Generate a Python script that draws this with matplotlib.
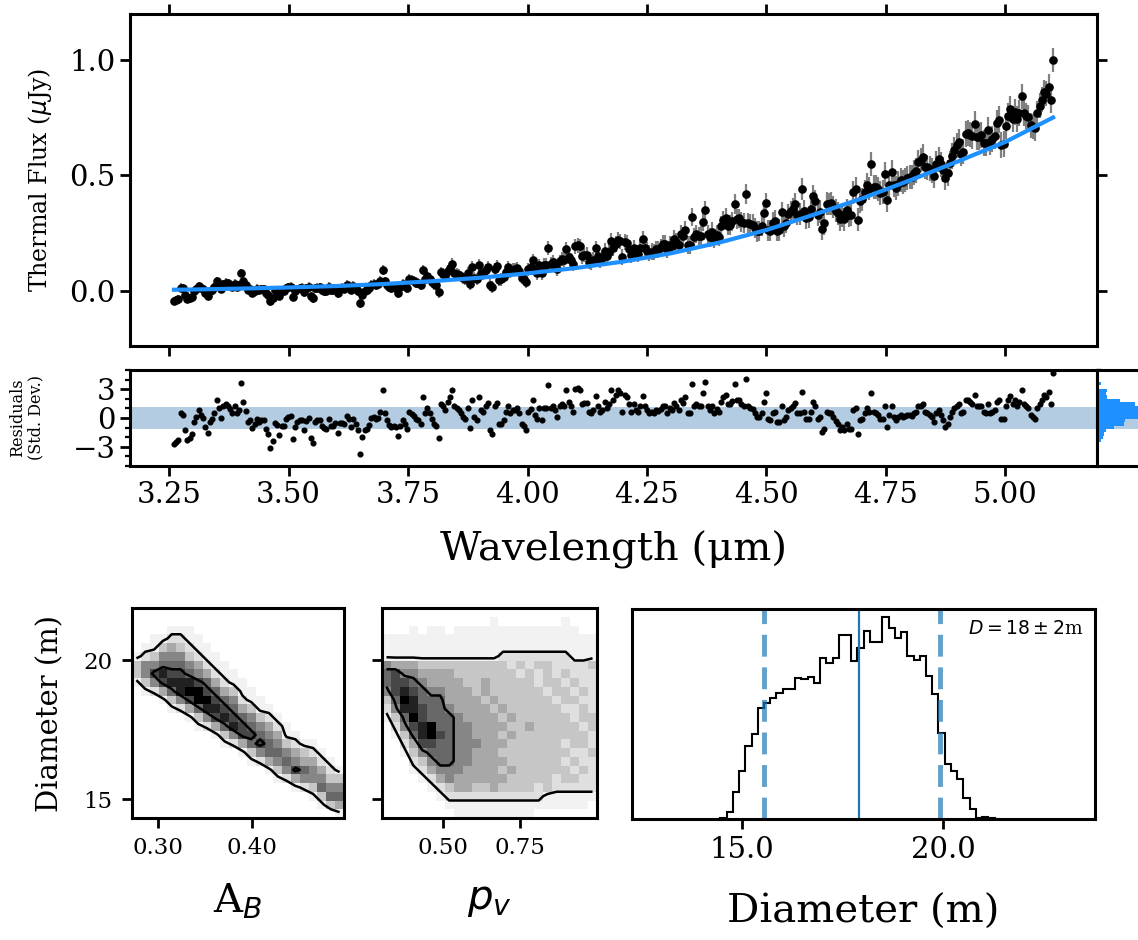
import numpy as np
import matplotlib
matplotlib.use("Agg")
import matplotlib.pyplot as plt
from matplotlib.ticker import MultipleLocator, FormatStrFormatter

plt.rcParams['font.family'] = 'serif'
plt.rcParams['font.serif'] = ['DejaVu Serif']
plt.rcParams['mathtext.fontset'] = 'dejavusans'

# ---------------- data ----------------
WL_START, WL_END = 3.26, 5.10   # evenly sampled spectral bins
RESID = [
    -2.7, -2.5, -2.3, 0.5, 0.3, -1.2, -2.3, -2.1, -1.7, -0.4, 0.1, 0.8, 0.3, 0.0, -0.9, -1.6, -0.4, -0.1, 0.5, 1.9,
    1.0, 0.0, 1.2, 1.5, 1.3, 0.9, 0.5, 1.2, 0.5, 0.8, 3.6, 1.7, 0.7, -0.4, -0.2, -1.0, -0.6, -0.1, -0.4, -0.2,
    -0.2, -1.1, -1.7, -3.1, -2.4, -0.5, -0.7, -1.8, -0.8, -0.8, -0.1, 0.1, 0.2, -2.2, -0.9, -0.4, -0.2, -0.2, -1.2, -0.3,
    0.0, -2.1, -2.6, -0.4, -0.2, -0.2, -0.8, -1.0, -1.1, -0.1, -0.8, -0.8, -0.5, -1.6, -0.5, -0.5, -0.6, 0.2, -0.1, -0.9,
    -0.1, -0.6, -1.2, -3.8, -2.0, -1.3, -1.1, -0.7, 0.0, 0.1, -0.1, 0.0, 0.6, 2.9, 0.5, -0.2, -0.7, -0.9, -0.8, -0.9,
    -1.9, -0.8, -0.2, -0.6, -1.1, 0.6, 0.4, 0.2, -0.1, -0.2, -0.6, 2.2, 0.5, 1.0, 0.5, -0.1, -0.6, -0.8, -2.1, 1.5,
    1.2, 0.8, 1.7, 2.2, 2.9, 1.2, 1.0, 0.8, 0.5, 0.1, -0.1, 1.0, -1.0, 1.9, 0.1, -0.2, 2.2, 0.8, 0.6, 1.2,
    1.6, -1.3, -1.7, 1.2, 1.6, -0.6, -0.6, -0.2, 0.6, 1.3, 0.5, 0.8, 0.8, 1.0, 0.5, -0.6, -0.8, -1.3, 0.6, 0.9,
    1.9, 0.3, -0.1, 1.0, -0.2, 1.0, 1.0, 3.4, 1.0, 1.2, 0.8, 0.1, 1.2, 1.5, 1.3, 2.9, 1.7, 1.2, 0.6, 3.0,
    3.1, 2.9, 1.5, 1.6, 1.6, 0.6, 0.5, 0.8, 2.3, 1.2, 0.6, 0.8, 1.7, 1.0, 1.5, 2.9, 1.9, 2.4, 2.9, 2.6,
    0.6, 2.4, 2.2, 1.5, 0.6, 1.5, 0.8, 0.6, 1.3, 2.3, 1.2, 0.8, 0.5,
    0.6, 0.5, 0.8, 0.7, 0.9, 1.3, 1.2, 0.5, 1.0, 0.8, 1.6, 1.2, 0.8, 1.9, 1.6, 2.2, 0.5, 0.5, 3.5, 1.2,
    1.5, 1.2, 1.2, 2.6, 3.8, 1.2, 0.8, 1.3, 0.5, 0.9, 0.6, 1.7, 2.2, 2.4, 1.5, 1.5, 1.8, 3.5, 1.9, 1.9,
    1.5, 1.3, 4.1, 1.2, 1.0, 0.9, 0.5, 0.1, 0.1, 0.5, 1.7, 2.6, -0.1, -0.2, 0.5, 0.6, -0.4, -0.4, 1.2, -0.2,
    0.1, 0.8, 1.0, 1.2, 1.6, 0.5, 0.5, 2.7, 0.6, -0.1, -0.1, 0.6, 1.7, 1.2, -0.1, 0.1, -1.5, -1.1, 0.6, 0.5,
    0.5, 0.1, -0.3, -0.6, -1.2, -0.9, -1.3, -0.6, -1.1, -1.1, 0.8, 1.0, -1.7, -0.2, -0.1, 0.5, 1.0, 0.6, 2.6, 0.6,
    0.5, 0.3, -0.1, -0.1, 1.3, -0.9, 0.3, 1.3, 0.1, -0.2, 0.1, 0.3, 0.1, 0.2, 0.3, 0.3, 0.2, 0.5, 0.6, 1.2,
    1.3, 1.5, 0.6, 0.5, 0.3, 0.1, -0.4, 0.5, 0.8, 0.3, -0.2, -0.9, -0.6, 0.1, 0.6, 1.0, 1.3, 1.5, 0.5, 0.6,
    1.9, 1.9, 1.7, 1.5, 2.4, 1.3, 1.2, 1.3, 0.6, 0.5, 1.5, 0.5, 0.6, 0.8, 1.7, 1.9, -0.1, -0.1, 1.2, 1.9,
    2.3, 1.5, 1.9, 1.3, 1.7, 2.9, 1.5, 1.2, 1.0, 0.3, 0.1, -0.1, 1.0, 1.5, 1.9, 2.4, 2.2, 2.7, 1.5, 4.7,
]
# best-fit thermal model
MODEL_WL = [3.26, 3.30, 3.40, 3.50, 3.60, 3.70, 3.80, 3.90, 4.00, 4.10, 4.20,
            4.30, 4.40, 4.50, 4.60, 4.70, 4.80, 4.90, 5.00, 5.10]
MODEL_FLUX = [0.004, 0.005, 0.009, 0.014, 0.020, 0.029, 0.041, 0.056, 0.075, 0.098, 0.126,
              0.162, 0.208, 0.263, 0.330, 0.400, 0.478, 0.560, 0.645, 0.751]
# flux uncertainty level versus wavelength
ERR_WL = [3.26, 3.50, 3.75, 4.00, 4.25, 4.50, 4.75, 5.00, 5.10]
ERR_VAL = [0.018, 0.019, 0.022, 0.028, 0.036, 0.045, 0.052, 0.057, 0.053]
BAND_SIGMA = 1.1

# 2D posterior histograms (row 0 = top), darkness 0..9
AB_RANGE = (0.273, 0.497)
PV_RANGE = (0.300, 1.000)
D_RANGE = (14.32, 21.87)
AB_D_GRID = [
    "000000000000000000000000",
    "000000000000000000000000",
    "000011100000000000000000",
    "001122110000000000000000",
    "011343211000000000000000",
    "123555321100000000000000",
    "355666542110000000000000",
    "357877654211000000000000",
    "135788876421100000000000",
    "012468997643110000000000",
    "000135799765211000000000",
    "000012468876431100000000",
    "000000135787653210000000",
    "000000012468765421000000",
    "000000000135776541100000",
    "000000000012467653211000",
    "000000000000135665432100",
    "000000000000012456544210",
    "000000000000000135765421",
    "000000000000000012455533",
    "000000000000000000123655",
    "000000000000000000001366",
    "000000000000000000000134",
    "000000000000000000000001",
]
PV_D_GRID = [
    "000000000000000000000000",
    "000000000000100000001000",
    "000101101111111111111100",
    "111111111111111111111111",
    "111111111111111111111111",
    "111111111111122222222111",
    "544433333333332323322223",
    "675544443333333232323222",
    "677654444334333332332322",
    "578765544434333333233232",
    "369866644443433333323322",
    "258876654444343333332232",
    "136976665444434333333233",
    "025789665544443343333323",
    "013689765544434333333332",
    "002477665554443333332332",
    "001356665544433333333223",
    "000235665544443333332322",
    "000124555444434333333232",
    "000012454444443333323322",
    "000001234433433332322222",
    "000000122222222222111111",
    "000000011111111111111110",
    "000000001111111110000000",
]
AB_LEVELS = [1.5, 6.5]
PV_LEVELS = [1.5, 5.5]

# Diameter posterior histogram
D_BIN_START, D_BIN_WIDTH = 14.46, 0.155
D_COUNTS = [3, 20, 80, 145, 220, 255, 335, 350, 365, 380, 392, 392, 425, 420, 428, 410,
            485, 470, 485, 555, 555, 475, 515, 565, 532, 532, 608, 575, 545, 563, 490,
            480, 490, 430, 375, 260, 165, 143, 120, 62, 30, 3, 5, 2, 1]
D_MEDIAN, D_LO, D_HI = 17.9, 15.55, 19.93

# ---------------- derived ----------------
resid = np.array(RESID)
wl = np.linspace(WL_START, WL_END, len(resid))
err = np.interp(wl, ERR_WL, ERR_VAL)
flux = np.interp(wl, MODEL_WL, MODEL_FLUX) + resid * err

def grid(rows):
    return np.array([[int(c) for c in r] for r in rows], dtype=float)[::-1]

# ---------------- figure ----------------
W, H = 1138, 940
fig = plt.figure(figsize=(W / 100, H / 100), dpi=100)

def box(l, t, r, b):
    return [l / W, 1 - b / H, (r - l) / W, (b - t) / H]

def style(ax, lab=21, pad=3.5):
    for s in ax.spines.values():
        s.set_linewidth(2.2)
    ax.tick_params(which='major', direction='out', length=7, width=2, labelsize=lab, pad=pad)
    ax.tick_params(which='minor', direction='out', length=3.5, width=1.6)

BLUE = '#1e90ff'

# top panel
ax1 = fig.add_axes(box(130, 14, 1097, 346))
ax1.errorbar(wl, flux, yerr=err, fmt='o', color='k', ms=5.2, ecolor='0.5',
             elinewidth=1.6, capsize=0, zorder=2)
ax1.plot(MODEL_WL, MODEL_FLUX, color=BLUE, lw=3, zorder=3)
ax1.set_xlim(3.168, 5.192)
ax1.set_ylim(-0.24, 1.2)
ax1.set_xticks(np.arange(3.25, 5.01, 0.25))
ax1.set_yticks([0.0, 0.5, 1.0])
ax1.yaxis.set_major_formatter(FormatStrFormatter('%.1f'))
style(ax1)
ax1.tick_params(top=True, right=True, labelbottom=False)
ax1.set_ylabel(r'Thermal Flux ($\mu$Jy)', fontsize=17, labelpad=11)

# residual panel
ax2 = fig.add_axes(box(130, 370, 1097, 466))
ax2.axhspan(-BAND_SIGMA, BAND_SIGMA, color='#b3cce1', lw=0, zorder=0)
ax2.plot(wl, resid, 'o', color='k', ms=3.4, zorder=2)
ax2.set_xlim(ax1.get_xlim())
ax2.set_ylim(-5, 5)
ax2.set_yticks([-3, 0, 3])
ax2.yaxis.set_minor_locator(MultipleLocator(1))
ax2.set_xticks(np.arange(3.25, 5.01, 0.25))
ax2.xaxis.set_major_formatter(FormatStrFormatter('%.2f'))
style(ax2)
ax2.tick_params(axis='y', which='both', left=True, right=True)
ax2.set_xlabel('Wavelength (μm)', fontsize=29, labelpad=16)
ax2.set_ylabel('Residuals\n(Std. Dev.)', fontsize=11.5, labelpad=20, linespacing=1.1)

# residual histogram
ax3 = fig.add_axes(box(1097, 370, 1200, 466))
ax3.axhspan(-BAND_SIGMA, BAND_SIGMA, color='#b3cce1', lw=0, zorder=0)
cnt, _, _ = ax3.hist(resid, bins=np.arange(-5, 5.01, 0.35), orientation='horizontal',
                     color=BLUE, zorder=2)
ax3.set_ylim(-5, 5)
ax3.set_xlim(0, cnt.max() * 100 / 48)
for s in ax3.spines.values():
    s.set_linewidth(2.2)
ax3.tick_params(left=False, labelleft=False, bottom=False, labelbottom=False)

# 2D histograms
def panel2d(ax, rows, xr, levels):
    Z = grid(rows)
    ny, nx = Z.shape
    xe = np.linspace(xr[0], xr[1], nx + 1)
    ye = np.linspace(D_RANGE[0], D_RANGE[1], ny + 1)
    ax.pcolormesh(xe, ye, Z, cmap='Greys', vmin=0, vmax=9, shading='flat')
    xc = 0.5 * (xe[1:] + xe[:-1])
    yc = 0.5 * (ye[1:] + ye[:-1])
    ax.contour(xc, yc, Z, levels=levels, colors='k', linewidths=1.8)
    ax.set_xlim(xr)
    ax.set_ylim(D_RANGE)

ax4 = fig.add_axes(box(132, 608, 344, 818))
panel2d(ax4, AB_D_GRID, AB_RANGE, AB_LEVELS)
ax4.set_xticks([0.30, 0.40])
ax4.xaxis.set_major_formatter(FormatStrFormatter('%.2f'))
ax4.set_yticks([15, 20])
style(ax4, lab=16.5, pad=7)
ax4.set_xlabel(r'A$_B$', fontsize=29, labelpad=16)
ax4.set_ylabel('Diameter (m)', fontsize=21, labelpad=14)

ax5 = fig.add_axes(box(382, 608, 597, 818))
panel2d(ax5, PV_D_GRID, PV_RANGE, PV_LEVELS)
ax5.set_xticks([0.50, 0.75])
ax5.xaxis.set_major_formatter(FormatStrFormatter('%.2f'))
ax5.set_yticks([15, 20])
style(ax5, lab=16.5, pad=7)
ax5.tick_params(labelleft=False)
ax5.set_xlabel(r'$p_v$', fontsize=29, labelpad=16)

# diameter histogram
ax6 = fig.add_axes(box(632, 609, 1095, 819))
edges = D_BIN_START + D_BIN_WIDTH * np.arange(len(D_COUNTS) + 1)
ax6.stairs(D_COUNTS, edges, color='k', lw=1.5, baseline=0)
ax6.axvline(D_MEDIAN, color='#1f77b4', lw=1.6)
for v in (D_LO, D_HI):
    ax6.axvline(v, color='#1f77b4', alpha=0.7, lw=3.5, ls=(0, (4.5, 2.2)))
ax6.set_xlim(12.26, 23.78)
ax6.set_ylim(0, 632)
ax6.set_xticks([15, 20])
ax6.xaxis.set_major_formatter(FormatStrFormatter('%.1f'))
ax6.set_yticks([])
style(ax6, lab=21, pad=5)
ax6.set_xlabel('Diameter (m)', fontsize=29, labelpad=22)
ax6.text(0.975, 0.95, r'$D = 18 \pm 2$m', transform=ax6.transAxes,
         ha='right', va='top', fontsize=13.5)

fig.savefig('out.png', dpi=100)
